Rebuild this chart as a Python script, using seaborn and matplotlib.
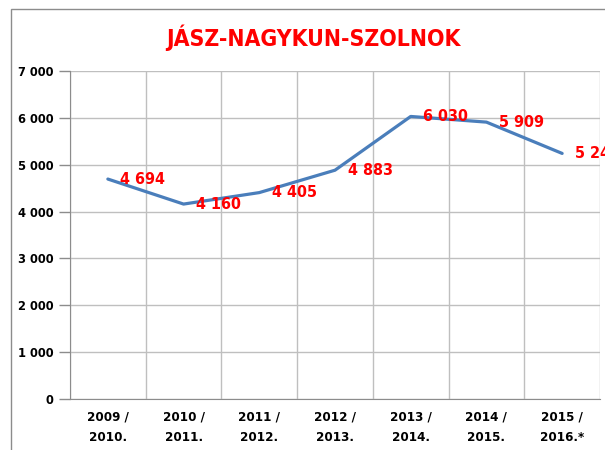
import matplotlib
matplotlib.use("Agg")
import matplotlib.pyplot as plt
import matplotlib.patches as mpatches
import seaborn as sns
import numpy as np

periods = ["2009 /\n2010.", "2010 /\n2011.", "2011 /\n2012.", "2012 /\n2013.",
           "2013 /\n2014.", "2014 /\n2015.", "2015 /\n2016.*"]
values = [4694, 4160, 4405, 4883, 6030, 5909, 5241]
y_ticks = [0, 1000, 2000, 3000, 4000, 5000, 6000, 7000]

sns.set_style("white")
plt.rcParams['font.family'] = ['DejaVu Sans']
plt.rcParams['font.stretch'] = 'condensed'


def fmt(v):
    return f"{v:,}".replace(",", " ")


fig = plt.figure(figsize=(6.05, 4.5), dpi=100)
ax = fig.add_axes([70 / 605, 1 - 399 / 450, 530 / 605, 328 / 450])

# chart frame (partially cropped in the reference)
fig.patches.append(mpatches.Rectangle((11 / 605, -0.2), 2.0, 1 - 9 / 450 + 0.2,
                                      transform=fig.transFigure, fill=False,
                                      edgecolor="#8c8c8c", linewidth=1.0))

x = np.arange(len(periods))
sns.lineplot(x=x, y=values, ax=ax, color="#4A7EBB", linewidth=2.3, sort=False)

for xi, v in zip(x, values):
    ax.annotate(fmt(v), (xi, v), xytext=(9, 0), textcoords="offset points",
                va="center", ha="left", color="red", fontsize=11.5,
                fontweight="bold", fontstretch="condensed", annotation_clip=False)

ax.set_xlim(-0.5, len(periods) - 0.5)
ax.set_ylim(0, 7000)
ax.set_xticks(x)
ax.set_xticklabels(periods, fontsize=9.5, fontweight="bold", linespacing=1.75,
                   fontstretch="condensed", color="black")
ax.set_xticks(np.arange(-0.5, len(periods)), minor=True)
ax.set_yticks(y_ticks)
ax.set_yticklabels([fmt(t) for t in y_ticks], fontsize=9.2, fontweight="bold",
                   fontstretch="condensed", color="black")

ax.grid(False)
ax.yaxis.grid(True, color="#bfbfbf", linewidth=1.0)
ax.xaxis.grid(True, which="minor", color="#bfbfbf", linewidth=1.0)
ax.set_axisbelow(True)
ax.tick_params(axis="x", which="major", length=0, pad=8)
ax.tick_params(axis="x", which="minor", length=0)
ax.tick_params(axis="y", length=8, color="#8c8c8c", width=1, pad=4, left=True)

for side in ["top", "right"]:
    ax.spines[side].set_visible(False)
ax.spines["left"].set_color("#8c8c8c")
ax.spines["bottom"].set_color("#8c8c8c")

fig.text(313 / 605, 1 - 38 / 450, "JÁSZ-NAGYKUN-SZOLNOK", ha="center", va="center",
         color="red", fontsize=16.5, fontweight="bold", fontstretch="condensed")

fig.savefig("out.png", dpi=100)
